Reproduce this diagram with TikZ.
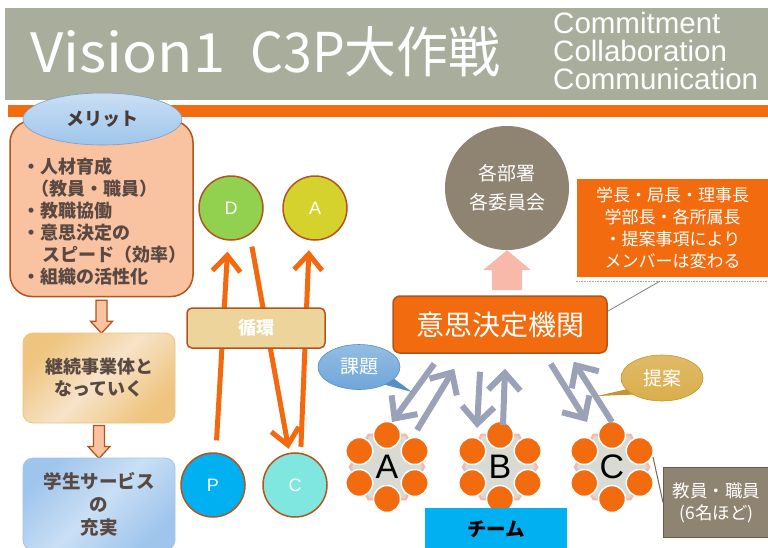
\documentclass[tikz,border=0pt]{standalone}
\usepackage{fontspec}
\setmainfont{Noto Sans CJK JP}
\newfontfamily\lat{Liberation Sans}
\usetikzlibrary{arrows.meta,calc,shapes.geometric}
\definecolor{banner}{HTML}{A8AE9B}
\definecolor{obar}{HTML}{F26B0F}
\definecolor{brd}{HTML}{B4531C}
\definecolor{meritfill}{HTML}{F9C2A0}
\definecolor{txtb}{HTML}{5A4943}
\definecolor{dcol}{HTML}{92D050}
\definecolor{acol}{HTML}{D5D22E}
\definecolor{pcol}{HTML}{00B0F0}
\definecolor{ccol}{HTML}{7FE6E0}
\definecolor{parrow}{HTML}{F4680E}
\definecolor{loopfill}{HTML}{EDD49A}
\definecolor{taupe}{HTML}{8F8371}
\definecolor{pinkar}{HTML}{F8B9AA}
\definecolor{garrow}{HTML}{9BA1B6}
\definecolor{hexfill}{HTML}{D9DAD3}
\definecolor{hexbrd}{HTML}{F4B9AC}
\definecolor{teamblue}{HTML}{00B0F0}
\definecolor{bluebub}{HTML}{6FA6DA}
\definecolor{bluebubd}{HTML}{5A8DC4}
\definecolor{goldbub}{HTML}{DAAE4C}
\definecolor{goldbubd}{HTML}{C4962F}
\definecolor{tanA}{HTML}{EEC47E}
\definecolor{tanB}{HTML}{F7E3C8}
\definecolor{blueA}{HTML}{9FC5EC}
\definecolor{blueB}{HTML}{C9DFF5}
\begin{document}
\begin{tikzpicture}[x=1pt,y=-1pt,
  jtxt/.style={text=txtb,font=\bfseries\fontsize{18}{22}\selectfont,align=center},
  pdca/.style={circle,draw=brd,line width=1.5pt,minimum size=64pt,inner sep=0pt,text=white,font=\lat\fontsize{18}{18}\selectfont},
  oarrow/.style={draw=parrow,line width=5pt,-{Straight Barb[length=16pt,width=28pt]}},
  garr/.style={draw=garrow,line width=6pt,-{Straight Barb[length=17pt,width=32pt]}},
  dot/.style={circle,fill=obar,draw=white,line width=1.5pt,minimum size=27pt,inner sep=0pt},
  grp/.style={inner sep=0pt,font=\lat\fontsize{34}{34}\selectfont},
  blkdown/.pic={\draw[fill=meritfill,draw=brd,line width=1.3pt,line join=miter]
     (-5.5,0) -- (5.5,0) -- (5.5,21) -- (11,21) -- (0,33) -- (-11,21) -- (-5.5,21) -- cycle;},
  pinkup/.pic={\fill[pinkar] (0,0) -- (24,20) -- (15,20) -- (15,40) -- (-15,40) -- (-15,20) -- (-24,20) -- cycle;}
]
\useasboundingbox (0,0) rectangle (768,547);
\fill[white] (0,0) rectangle (768,547);
% banner
\fill[banner] (5,8) rectangle (768,100);
\fill[obar] (8,105) rectangle (768,117);
\node[anchor=base west,inner sep=0pt,text=white] (t1) at (30,72) {\resizebox{195pt}{42pt}{Vision1}};
\node[anchor=base west,inner sep=0pt,text=white] (t2) at (250,72) {\resizebox{250pt}{46pt}{C3P大作戦}};
\node[anchor=base west,inner sep=0pt,text=white,font=\lat\fontsize{29.5}{29}\selectfont] (c1) at (553,33) {Commitment};
\node[anchor=base west,inner sep=0pt,text=white,font=\lat\fontsize{29.5}{29}\selectfont] (c2) at (553,61) {Collaboration};
\node[anchor=base west,inner sep=0pt,text=white,font=\lat\fontsize{29.5}{29}\selectfont] (c3) at (553,89) {Communication};
% merit
\node[draw=brd,line width=1.5pt,fill=meritfill,rounded corners=22pt,minimum width=183pt,minimum height=176pt] (merit) at (101.5,208.5) {};
\node[ellipse,draw=blueA!80!black,line width=0.6pt,top color=blueB,bottom color=blueA,minimum width=159pt,minimum height=52pt,text=txtb!80!black,font=\bfseries\fontsize{18}{18}\selectfont] (mer) at (102.5,119) {メリット};
\node[jtxt,anchor=west,align=left] (mtext) at (19,222) {・人材育成\\\hspace{9pt}（教員・職員）\\・教職協働\\・意思決定の\\\hspace{20pt}スピード（効率）\\・組織の活性化};
% continuation boxes
\pic at ($(merit.south)+(0,3)$) {blkdown};
\node[rounded corners=10pt,draw=tanA,line width=0.8pt,top color=tanA,bottom color=tanA,middle color=tanB,shading angle=45,minimum width=152pt,minimum height=90pt,jtxt] (cont) at (99,378) {継続事業体と\\なっていく};
\pic at ($(cont.south)+(0,2)$) {blkdown};
\node[rounded corners=10pt,draw=blueA,line width=0.8pt,top color=blueA,bottom color=blueA,middle color=blueB,shading angle=45,minimum width=152pt,minimum height=92pt,jtxt,font=\bfseries\fontsize{18.5}{23}\selectfont] (stud) at (99,504) {学生サービス\\の\\充実};
% PDCA
\node[pdca,fill=dcol] (D) at (231,208) {D};
\node[pdca,fill=acol] (A) at (315,208) {A};
\node[pdca,fill=pcol] (P) at (213,485) {P};
\node[pdca,fill=ccol] (C) at (295,485) {C};
\draw[oarrow,shorten <=12pt,shorten >=11pt] (P.85) -- (D.-95);
\draw[oarrow,shorten <=12pt,shorten >=4pt] (D.-55) -- (C.100);
\draw[oarrow,shorten <=6pt,shorten >=10pt] (C.80) -- (A.-100);
\node[draw=brd,line width=1.5pt,fill=loopfill,rounded corners=5pt,minimum width=138pt,minimum height=40pt,text=white,font=\bfseries\fontsize{18}{18}\selectfont] (loop) at (256,328) {循環};
% committee
\node[circle,fill=taupe,minimum size=124pt,inner sep=0pt,text=white,align=center,font=\fontsize{19}{29}\selectfont] (kb) at (507,188) {各部署\\各委員会};
\pic at (kb.south) {pinkup};
% info box
\node[fill=obar,minimum width=191pt,minimum height=98pt,inner sep=0pt,text=white,align=center,font=\fontsize{17}{21.7}\selectfont] (info) at (672.5,228) {学長・局長・理事長\\学部長・各所属長\\・提案事項により\\メンバーは変わる};
\draw[gray!70,line width=0.6pt,densely dotted] ($(info.south west)+(-1,4)$) -- ($(info.south east)+(0,4)$);
% decision body
\node[draw=brd,line width=1.5pt,fill=obar,rounded corners=7pt,minimum width=214pt,minimum height=57pt,text=white,font=\fontsize{28}{28}\selectfont] (dm) at (500,324.5) {意思決定機関};
\draw[gray,line width=0.8pt] ($(info.south west)+(83,4)$) -- ($(dm.north east)+(0,16)$);
% groups
\foreach \g/\lx/\lab in {gA/387/A,gB/500/B,gC/612/C}{
  \node[grp] (\g) at (\lx,467) {};
  \filldraw[fill=hexfill,draw=hexbrd,line width=2.5pt] ($(\g)+(0:37)$) -- ($(\g)+(60:37)$) -- ($(\g)+(120:37)$) -- ($(\g)+(180:37)$) -- ($(\g)+(240:37)$) -- ($(\g)+(300:37)$) -- cycle;
  \foreach \a in {30,90,150,210,270,330}{\node[dot] at ($(\g)+(\a:32)$) {};}
  \node[grp] at (\g) {\lab};
}
% team bar
\node[fill=teamblue,minimum width=142pt,minimum height=42pt,inner sep=0pt,anchor=north west,font=\bfseries\fontsize{19.5}{19.5}\selectfont] (team) at (425,508) {チーム};
% faculty box
\node[fill=taupe,draw=taupe!70!black,line width=0.8pt,minimum width=106pt,minimum height=70pt,anchor=north west,inner sep=0pt,text=white,align=center,font=\fontsize{17.5}{22}\selectfont] (fac) at (663,467) {教員・職員\\(6名ほど)};
\draw[taupe!80!black,line width=1pt] (fac.west) -- ($(gC)+(41,-10)$);
% grey arrows
\draw[garr] ($(dm.south west)+(42,10)$) -- ($(gA)+(5,-45)$);
\draw[garr] ($(gA)+(30,-37)$) -- ($(dm.south west)+(62,15)$);
\draw[garr] ($(dm.south)+(-20,18)$) -- ($(gB)+(-23,-39)$);
\draw[garr] ($(gB)+(3,-42)$) -- ($(dm.south)+(5,15)$);
\draw[garr] ($(dm.south east)+(-57,10)$) -- ($(gC)+(-25,-45)$);
\draw[garr] ($(gC)+(0,-45)$) -- ($(dm.south east)+(-34,8)$);
% bubbles
\coordinate (kt) at (412,392);
\node[ellipse,minimum width=82pt,minimum height=45pt] (kadai) at (359,367) {};
\fill[bluebubd] ($(kadai.center)+(12,14)$) -- (kt) -- ($(kadai.center)+(30,8)$) -- cycle;
\node[ellipse,draw=bluebubd,line width=0.6pt,top color=bluebub!75!white,bottom color=bluebub,minimum width=82pt,minimum height=45pt,text=white,font=\fontsize{19}{19}\selectfont] at (kadai) {課題};
\coordinate (tt) at (597,396);
\node[ellipse,minimum width=82pt,minimum height=46pt] (teian) at (662,378) {};
\fill[goldbubd] ($(teian.center)+(-30,10)$) -- (tt) -- ($(teian.center)+(-14,16)$) -- cycle;
\node[ellipse,draw=goldbubd,line width=0.6pt,top color=goldbub!85!white,bottom color=goldbub,minimum width=82pt,minimum height=46pt,text=white,font=\fontsize{19}{19}\selectfont] at (teian) {提案};
\end{tikzpicture}
\end{document}
